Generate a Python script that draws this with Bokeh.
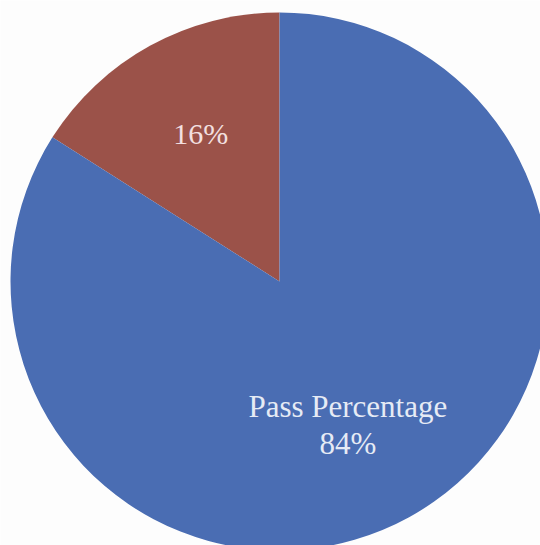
import math
from bokeh.plotting import figure
from bokeh.models import Range1d, ColumnDataSource
from bokeh.core.properties import value
from bokeh.embed import file_html
from bokeh.resources import INLINE

# data
categories = ["Fail Percentage", "Pass Percentage"]
percentages = [16, 84]
colors = ["#9b5249", "#4a6db3"]
slice_labels = ["16%", "Pass Percentage\n84%"]

# layout (pixels)
W, H = 540, 545
cx_px, cy_px = 279, 281      # pie centre within the figure
R_px = 269.0

x0 = -cx_px / R_px
x1 = (W - cx_px) / R_px
y1 = cy_px / R_px
y0 = -(H - cy_px) / R_px

p = figure(width=W, height=H, output_backend="svg", toolbar_location=None,
           x_range=Range1d(x0, x1), y_range=Range1d(y0, y1),
           min_border=0, border_fill_color="#fdfdfd", background_fill_color="#fdfdfd")
p.axis.visible = False
p.grid.visible = False
p.outline_line_color = None

starts, ends = [], []
a = math.pi / 2
for v in percentages:
    starts.append(a)
    a += v / 100.0 * 2 * math.pi
    ends.append(a)

src = ColumnDataSource(dict(cat=categories, start=starts, end=ends, color=colors))
p.wedge(x=0, y=0, radius=1.0, start_angle="start", end_angle="end",
        fill_color="color", line_color=None, source=src)

# labels
p.text(x=[-0.293], y=[0.549], text=[slice_labels[0]], text_align="center",
       text_baseline="alphabetic", text_font=value("Liberation Serif"),
       text_font_size="30px", text_color="#f3e0e0")
p.text(x=[0.254, 0.254], y=[-0.463, -0.601], text=slice_labels[1].split("\n"),
       text_align="center", text_baseline="alphabetic",
       text_font=value("Liberation Serif"), text_font_size="31px",
       text_color="#e6ebf5")

open("out.html", "w").write(file_html(p, INLINE))
